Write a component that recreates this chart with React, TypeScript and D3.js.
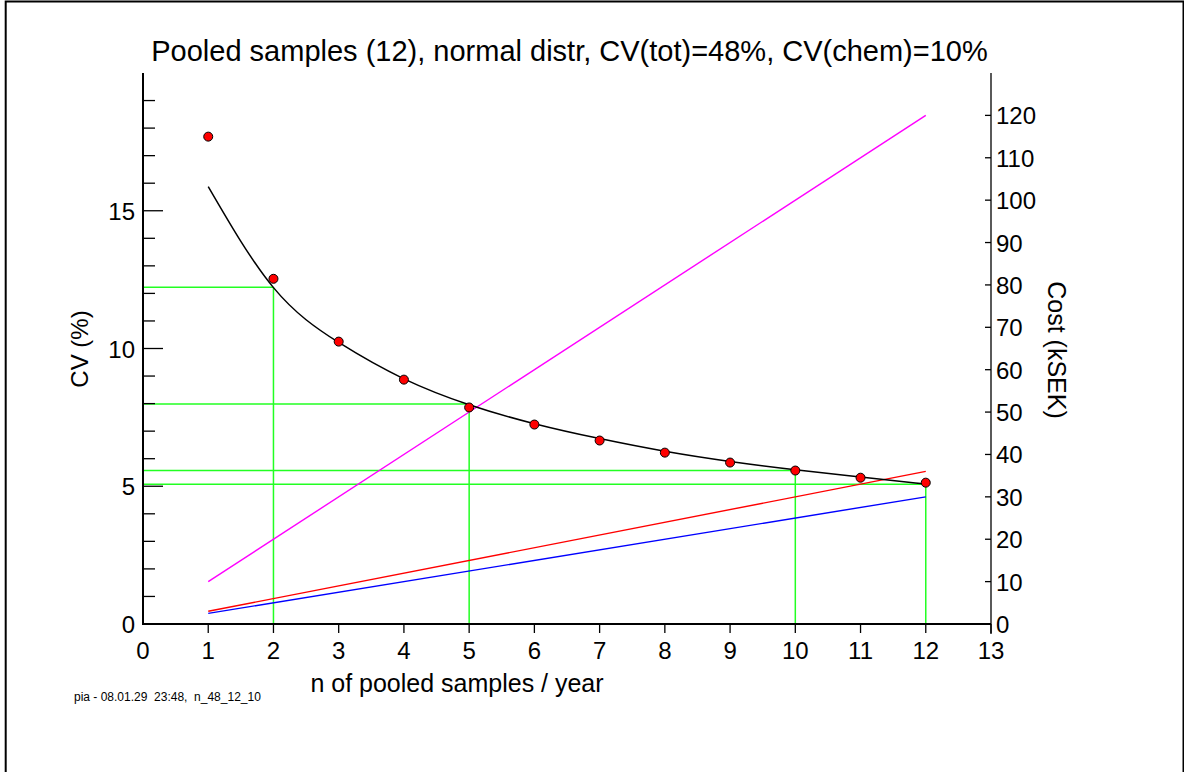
import * as d3 from 'd3';

// observed CV (%) per number of pooled samples
const nObs = [1, 2, 3, 4, 5, 6, 7, 8, 9, 10, 11, 12];
const cvObs = [17.69, 12.53, 10.25, 8.87, 7.86, 7.24, 6.66, 6.22, 5.86, 5.57, 5.31, 5.13];
// fitted curve, read at each n
const cvFit = [15.88, 12.21, 10.22, 8.9, 7.96, 7.27, 6.73, 6.27, 5.9, 5.6, 5.34, 5.08];
// green guide lines
const guideN = [2, 5, 10, 12];
const guideCV = [12.22, 7.99, 5.57, 5.07];
// cost lines (kSEK) at first and last n
const costN = [1, 12];
const costTotal = [10, 120];
const costRed = [3, 36];
const costBlue = [2.5, 30];

const xTicks = d3.range(0, 14);
const leftMinor = d3.range(0, 20);
const leftMajor = [0, 5, 10, 15];
const rightTicks = d3.range(0, 130, 10);

const W = 1184;
const H = 772;
const font = '"Liberation Sans", Arial, Helvetica, sans-serif';

export default function App() {
  const x = d3.scaleLinear().domain([0, 13]).range([143, 991]);
  const yL = d3.scaleLinear().domain([0, 20]).range([624, 73]);
  const yR = d3.scaleLinear().domain([0, 130]).range([624, 73]);

  const fitLine = d3
    .line<number>()
    .x((_, i) => x(nObs[i]))
    .y((d) => yL(d))
    .curve(d3.curveNatural)(cvFit) ?? '';

  const costLine = (vals: number[]) =>
    d3
      .line<number>()
      .x((_, i) => x(costN[i]))
      .y((d) => yR(d))(vals) ?? '';

  return (
    <svg
      width={W}
      height={H}
      style={{ position: 'absolute', left: 0, top: 0, background: '#fff' }}
      fontFamily={font}
    >
      <rect x={5.7} y={1.5} width={1177.8} height={H + 20} fill="none" stroke="#000" strokeWidth={2} />

      <text x={569.5} y={61} textAnchor="middle" fontSize={29}>
        Pooled samples (12), normal distr, CV(tot)=48%, CV(chem)=10%
      </text>

      {/* green guides */}
      {guideN.map((n, i) => (
        <g key={n} stroke="#22ff22" strokeWidth={1.5} fill="none">
          <line x1={x(0)} x2={x(n)} y1={yL(guideCV[i])} y2={yL(guideCV[i])} />
          <line x1={x(n)} x2={x(n)} y1={yL(0)} y2={yL(guideCV[i])} />
        </g>
      ))}

      <path d={costLine(costTotal)} fill="none" stroke="#ff00ff" strokeWidth={1.4} />
      <path d={costLine(costRed)} fill="none" stroke="#ff0000" strokeWidth={1.4} />
      <path d={costLine(costBlue)} fill="none" stroke="#0000ff" strokeWidth={1.4} />
      <path d={fitLine} fill="none" stroke="#000" strokeWidth={1.5} />

      {cvObs.map((v, i) => (
        <circle key={i} cx={x(nObs[i])} cy={yL(v)} r={4.5} fill="#ff0000" stroke="#000" strokeWidth={1} />
      ))}

      {/* left axis */}
      <line x1={x(0)} x2={x(0)} y1={yL(20)} y2={yL(0) + 1} stroke="#000" strokeWidth={2} />
      {leftMinor.map((t) => (
        <line
          key={t}
          x1={x(0)}
          x2={x(0) + (t % 5 === 0 ? 20 : 12)}
          y1={yL(t)}
          y2={yL(t)}
          stroke="#000"
          strokeWidth={1.3}
        />
      ))}
      {leftMajor.map((t) => (
        <text key={t} x={x(0) - 8} y={yL(t) + 9} textAnchor="end" fontSize={24}>
          {t}
        </text>
      ))}

      {/* right axis */}
      <line x1={x(13)} x2={x(13)} y1={yR(130)} y2={yR(0) + 10} stroke="#000" strokeWidth={1.3} />
      {rightTicks.map((t) => (
        <g key={t}>
          <line x1={x(13) - 6} x2={x(13)} y1={yR(t)} y2={yR(t)} stroke="#000" strokeWidth={1.3} />
          <text x={x(13) + 5} y={yR(t) + 9} fontSize={24}>
            {t}
          </text>
        </g>
      ))}

      {/* x axis */}
      <line x1={x(0)} x2={x(13)} y1={yL(0)} y2={yL(0)} stroke="#000" strokeWidth={2} />
      {xTicks.map((t) => (
        <g key={t}>
          {t > 0 && <line x1={x(t)} x2={x(t)} y1={yL(0)} y2={yL(0) + 9} stroke="#000" strokeWidth={1.3} />}
          <text x={x(t)} y={659} textAnchor="middle" fontSize={24}>
            {t}
          </text>
        </g>
      ))}

      <text x={457} y={692} textAnchor="middle" fontSize={25}>
        n of pooled samples / year
      </text>
      <text transform="translate(88,349) rotate(-90)" textAnchor="middle" fontSize={24}>
        CV (%)
      </text>
      <text transform="translate(1048,350) rotate(90)" textAnchor="middle" fontSize={25}>
        Cost (kSEK)
      </text>

      <text x={74} y={701} fontSize={12} style={{ whiteSpace: 'pre' }}>
        {'pia - 08.01.29  23:48,  n_48_12_10'}
      </text>
    </svg>
  );
}
